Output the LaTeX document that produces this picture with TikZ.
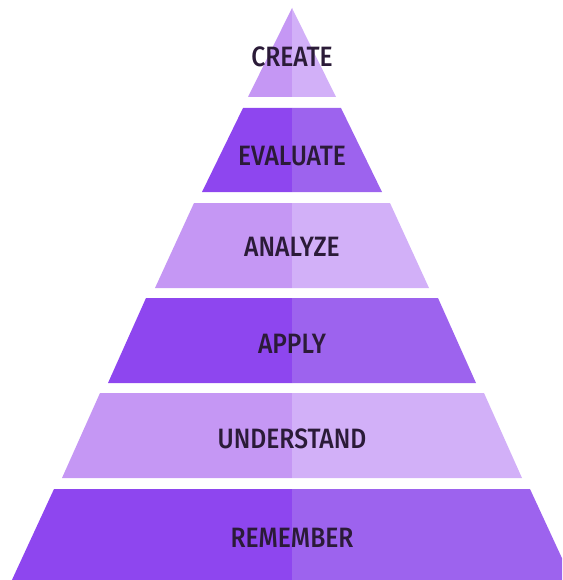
\documentclass[tikz,border=0pt]{standalone}
\usepackage{fontspec}
\newfontfamily\labfont{Fira Sans Medium}[FakeStretch=0.88]
\definecolor{darkL}{HTML}{8E46EF}
\definecolor{darkR}{HTML}{9D63EE}
\definecolor{lightL}{HTML}{C597F4}
\definecolor{lightR}{HTML}{D2B0F8}
\definecolor{labtext}{HTML}{2B1B38}
\begin{document}
\begin{tikzpicture}[x=1pt,y=-1pt,
  lab/.style={font=\labfont\fontsize{28}{28}\selectfont, text=labtext, inner sep=0pt, anchor=base}]
\useasboundingbox (0,0) rectangle (562,580);
\clip (0,0) rectangle (562,580);
\foreach \yt/\wt/\yb/\wb/\cl/\cr in {
  8/0/97/44/lightL/lightR,
  108/49/192/90/darkL/darkR,
  203/98/288/137/lightL/lightR,
  298/146/383/184/darkL/darkR,
  393/192/478/230/lightL/lightR,
  489/238/582/281/darkL/darkR}{
  \fill[\cl] ({292-\wt},\yt) -- (292,\yt) -- (292,\yb) -- ({292-\wb},\yb) -- cycle;
  \fill[\cr] (292,\yt) -- ({292+\wt},\yt) -- ({292+\wb},\yb) -- (292,\yb) -- cycle;
}
\node[lab] (create) at (292,67) {CREATE};
\node[lab] (evaluate) at (292,165) {EVALUATE};
\node[lab] (analyze) at (292,256) {ANALYZE};
\node[lab] (apply) at (292,353) {APPLY};
\node[lab] (understand) at (292,448) {UNDERSTAND};
\node[lab] (remember) at (292,547) {REMEMBER};
\end{tikzpicture}
\end{document}
